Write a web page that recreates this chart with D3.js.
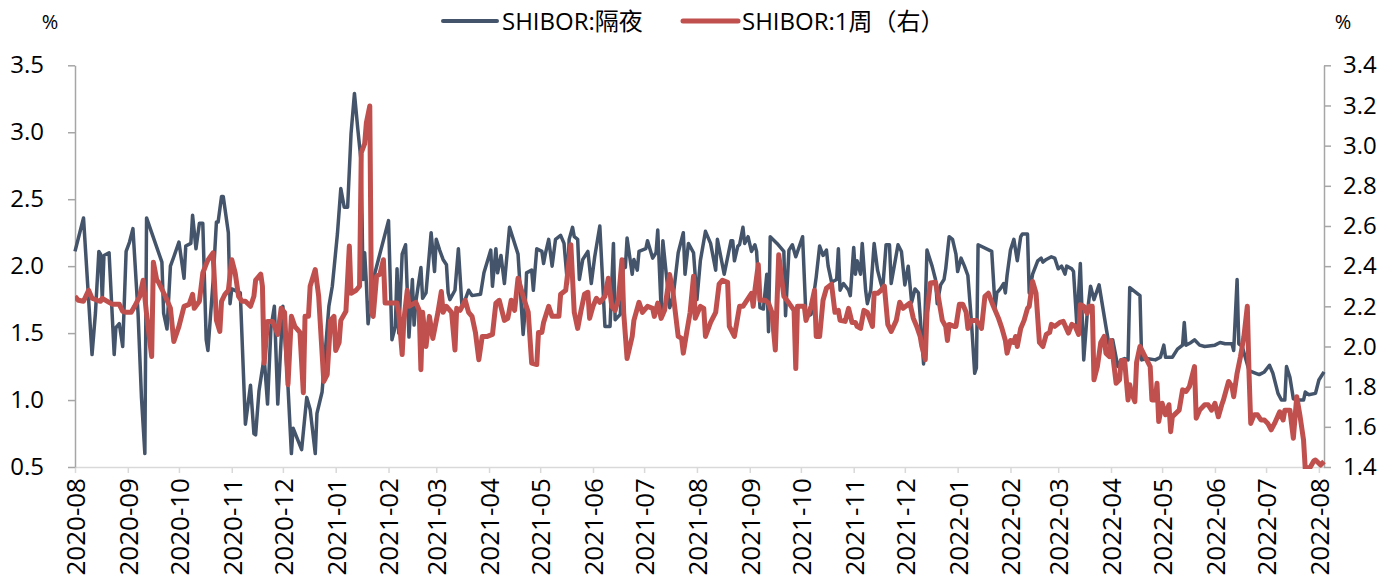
<!DOCTYPE html>
<html><head><meta charset="utf-8">
<script src="https://cdn.jsdelivr.net/npm/d3@7"></script>
<style>
body{margin:0;background:#fff}
svg{display:block}
text{font-family:"Open Sans","Noto Sans CJK SC",sans-serif;fill:#000}
</style>
</head><body>
<svg id="chart" width="1385" height="583"></svg>
<script>
// SHIBOR overnight (left axis, %)
const overnight = [
["2020-08-01",2.11],["2020-08-06",2.36],["2020-08-11",1.34],["2020-08-13",1.65],["2020-08-15",2.11],["2020-08-16",2.09],["2020-08-17",1.75],["2020-08-18",2.08],["2020-08-21",2.10],["2020-08-24",1.34],["2020-08-25",1.54],["2020-08-27",1.57],["2020-08-29",1.40],["2020-08-31",2.11],
["2020-09-02",2.18],["2020-09-04",2.28],["2020-09-07",1.65],["2020-09-09",1.02],["2020-09-11",0.60],["2020-09-12",2.36],["2020-09-21",2.03],["2020-09-22",1.65],["2020-09-24",1.53],["2020-09-26",2.00],["2020-09-28",2.07],
["2020-10-01",2.18],["2020-10-04",1.91],["2020-10-05",2.15],["2020-10-08",2.17],["2020-10-09",2.38],["2020-10-11",2.13],["2020-10-13",2.32],["2020-10-15",2.32],["2020-10-17",1.45],["2020-10-18",1.37],["2020-10-21",1.88],["2020-10-23",2.33],["2020-10-24",2.33],["2020-10-26",2.52],["2020-10-27",2.52],["2020-10-30",2.25],["2020-10-31",1.72],
["2020-11-01",1.83],["2020-11-06",1.80],["2020-11-09",0.82],["2020-11-12",1.11],["2020-11-14",0.75],["2020-11-15",0.74],["2020-11-17",1.07],["2020-11-20",1.32],["2020-11-22",0.97],["2020-11-24",1.54],["2020-11-26",1.70],["2020-11-28",0.97],
["2020-12-01",1.70],["2020-12-04",1.10],["2020-12-06",0.60],["2020-12-07",0.79],["2020-12-12",0.63],["2020-12-15",1.02],["2020-12-17",0.93],["2020-12-20",0.60],["2020-12-21",0.90],["2020-12-24",1.06],["2020-12-28",1.70],["2020-12-30",1.85],
["2021-01-02",2.24],["2021-01-04",2.58],["2021-01-06",2.44],["2021-01-08",2.44],["2021-01-10",2.99],["2021-01-12",3.29],["2021-01-14",3.02],["2021-01-16",2.77],["2021-01-17",1.90],["2021-01-18",2.10],["2021-01-19",1.87],["2021-01-20",1.57],["2021-01-23",1.90],
["2021-02-01",2.34],["2021-02-03",1.45],["2021-02-05",1.55],["2021-02-06",1.98],["2021-02-07",1.50],["2021-02-09",2.09],["2021-02-11",2.16],["2021-02-13",1.47],["2021-02-15",1.90],["2021-02-16",1.56],["2021-02-17",1.73],["2021-02-20",1.99],["2021-02-21",1.76],["2021-02-23",1.80],["2021-02-26",2.25],["2021-02-28",1.96],
["2021-03-01",2.20],["2021-03-03",2.12],["2021-03-05",2.05],["2021-03-07",2.01],["2021-03-08",1.80],["2021-03-09",1.75],["2021-03-12",1.82],["2021-03-14",2.13],["2021-03-16",1.72],["2021-03-18",1.75],["2021-03-20",1.82],["2021-03-22",1.78],["2021-03-27",1.79],["2021-03-29",1.95],
["2021-04-02",2.12],["2021-04-03",1.85],["2021-04-05",2.13],["2021-04-06",1.95],["2021-04-08",2.08],["2021-04-10",1.87],["2021-04-13",2.29],["2021-04-18",2.09],["2021-04-21",1.49],["2021-04-22",1.64],["2021-04-23",1.95],["2021-04-26",1.97],["2021-04-27",1.82],["2021-04-29",2.13],
["2021-05-02",2.11],["2021-05-03",2.02],["2021-05-04",2.09],["2021-05-06",2.20],["2021-05-08",2.00],["2021-05-10",2.20],["2021-05-13",2.23],["2021-05-15",2.17],["2021-05-17",1.87],["2021-05-18",2.20],["2021-05-20",2.29],["2021-05-21",2.22],["2021-05-23",2.20],["2021-05-24",1.90],["2021-05-26",2.05],["2021-05-29",2.11],["2021-05-31",1.87],
["2021-06-02",2.07],["2021-06-05",2.30],["2021-06-08",1.55],["2021-06-11",1.55],["2021-06-13",2.17],["2021-06-14",1.60],["2021-06-17",1.64],["2021-06-19",2.05],["2021-06-20",1.99],["2021-06-21",2.21],["2021-06-24",1.94],["2021-06-25",2.05],["2021-06-27",1.97],["2021-06-28",2.11],
["2021-07-02",2.13],["2021-07-03",2.19],["2021-07-06",2.06],["2021-07-08",2.10],["2021-07-09",2.27],["2021-07-11",1.67],["2021-07-12",2.19],["2021-07-14",1.94],["2021-07-16",1.69],["2021-07-18",1.77],["2021-07-21",2.10],["2021-07-24",2.25],["2021-07-25",1.94],["2021-07-27",2.17],["2021-07-30",2.10],
["2021-08-01",1.75],["2021-08-03",2.04],["2021-08-06",2.26],["2021-08-09",2.17],["2021-08-12",1.97],["2021-08-13",2.20],["2021-08-17",1.94],["2021-08-21",2.19],["2021-08-22",2.19],["2021-08-23",2.04],["2021-08-25",2.15],["2021-08-26",2.16],["2021-08-28",2.29],["2021-08-29",2.17],["2021-08-31",2.22],
["2021-09-02",2.11],["2021-09-04",2.16],["2021-09-05",2.11],["2021-09-07",1.69],["2021-09-09",1.68],["2021-09-11",1.94],["2021-09-12",1.51],["2021-09-13",2.22],["2021-09-17",2.17],["2021-09-21",2.11],["2021-09-22",1.63],["2021-09-24",2.12],["2021-09-26",2.16],["2021-09-28",2.07],
["2021-10-02",2.22],["2021-10-04",1.62],["2021-10-07",1.64],["2021-10-10",1.92],["2021-10-12",2.15],["2021-10-14",2.08],["2021-10-16",2.12],["2021-10-17",2.00],["2021-10-19",1.88],["2021-10-22",1.90],["2021-10-23",2.13],["2021-10-24",1.82],["2021-10-26",1.87],["2021-10-29",1.82],["2021-10-30",1.78],
["2021-11-01",2.14],["2021-11-02",1.94],["2021-11-03",2.04],["2021-11-05",1.94],["2021-11-06",2.17],["2021-11-08",1.82],["2021-11-09",1.72],["2021-11-11",1.82],["2021-11-13",2.17],["2021-11-15",1.97],["2021-11-17",1.87],["2021-11-18",1.83],["2021-11-20",2.16],["2021-11-22",2.16],["2021-11-23",1.87],["2021-11-27",2.16],["2021-11-29",2.11],
["2021-12-01",1.86],["2021-12-03",2.00],["2021-12-05",1.73],["2021-12-07",1.83],["2021-12-09",1.80],["2021-12-11",1.45],["2021-12-12",1.27],["2021-12-14",2.12],["2021-12-17",2.00],["2021-12-19",1.90],["2021-12-20",1.72],["2021-12-22",1.86],["2021-12-24",1.90],["2021-12-25",1.98],["2021-12-27",2.22],["2021-12-29",2.20],["2021-12-31",2.09],
["2022-01-01",1.96],["2022-01-03",2.06],["2022-01-05",2.00],["2022-01-07",1.93],["2022-01-09",1.60],["2022-01-11",1.20],["2022-01-12",1.24],["2022-01-13",2.16],["2022-01-21",2.11],["2022-01-23",1.69],["2022-01-24",1.80],["2022-01-26",1.83],["2022-01-28",1.87],["2022-01-29",1.80],["2022-01-30",1.93],
["2022-02-01",2.12],["2022-02-03",2.20],["2022-02-05",2.04],["2022-02-07",2.22],["2022-02-08",2.24],["2022-02-11",2.24],["2022-02-12",1.80],["2022-02-14",1.94],["2022-02-17",2.04],["2022-02-19",2.06],["2022-02-20",2.03],["2022-02-22",2.05],["2022-02-25",2.07],["2022-02-27",2.06],
["2022-03-01",1.98],["2022-03-03",2.00],["2022-03-05",1.94],["2022-03-06",2.00],["2022-03-09",1.98],["2022-03-10",1.96],["2022-03-12",1.55],["2022-03-13",1.80],["2022-03-14",2.02],["2022-03-16",1.30],["2022-03-18",1.64],["2022-03-20",1.85],["2022-03-22",1.75],["2022-03-25",1.86],["2022-03-29",1.55],["2022-03-31",1.40],
["2022-04-02",1.45],["2022-04-05",1.25],["2022-04-07",1.30],["2022-04-09",1.31],["2022-04-11",1.30],["2022-04-12",1.84],["2022-04-18",1.78],["2022-04-19",1.30],["2022-04-22",1.31],["2022-04-27",1.30],["2022-04-30",1.32],
["2022-05-02",1.41],["2022-05-03",1.32],["2022-05-07",1.32],["2022-05-10",1.38],["2022-05-13",1.41],["2022-05-14",1.58],["2022-05-15",1.41],["2022-05-18",1.43],["2022-05-20",1.45],["2022-05-23",1.41],["2022-05-26",1.40],
["2022-06-01",1.41],["2022-06-04",1.43],["2022-06-07",1.42],["2022-06-11",1.42],["2022-06-12",1.37],["2022-06-14",1.90],["2022-06-15",1.42],["2022-06-17",1.40],["2022-06-21",1.22],["2022-06-25",1.20],["2022-06-27",1.19],["2022-06-30",1.21],
["2022-07-03",1.26],["2022-07-05",1.20],["2022-07-08",1.05],["2022-07-10",1.00],["2022-07-12",1.00],["2022-07-13",1.25],["2022-07-15",1.17],["2022-07-17",1.01],["2022-07-20",1.00],["2022-07-23",1.00],["2022-07-24",1.06],["2022-07-26",1.04],["2022-07-30",1.05],
["2022-08-01",1.15],["2022-08-04",1.21]
];

// SHIBOR 1 week (right axis, %)
const oneWeek = [
["2020-08-01",2.25],["2020-08-03",2.23],["2020-08-06",2.225],["2020-08-09",2.28],["2020-08-11",2.24],["2020-08-14",2.23],["2020-08-16",2.225],["2020-08-17",2.24],["2020-08-20",2.225],["2020-08-23",2.21],["2020-08-27",2.21],["2020-08-29",2.175],["2020-08-31",2.17],
["2020-09-03",2.17],["2020-09-05",2.20],["2020-09-08",2.25],["2020-09-10",2.33],["2020-09-12",2.16],["2020-09-15",1.95],["2020-09-16",2.42],["2020-09-18",2.33],["2020-09-19",2.32],["2020-09-23",2.25],["2020-09-26",2.19],["2020-09-28",2.025],
["2020-10-01",2.10],["2020-10-04",2.20],["2020-10-07",2.21],["2020-10-09",2.26],["2020-10-10",2.19],["2020-10-13",2.225],["2020-10-15",2.366],["2020-10-17",2.41],["2020-10-18",2.43],["2020-10-21",2.466],["2020-10-23",2.13],["2020-10-25",2.075],["2020-10-26",2.225],["2020-10-28",2.26],["2020-10-30",2.28],
["2020-11-01",2.432],["2020-11-03",2.366],["2020-11-05",2.25],["2020-11-07",2.225],["2020-11-09",2.225],["2020-11-12",2.20],["2020-11-14",2.25],["2020-11-15",2.33],["2020-11-18",2.36],["2020-11-19",2.30],["2020-11-20",1.917],["2020-11-22",2.125],["2020-11-25",2.125],["2020-11-28",2.06],["2020-11-30",2.19],
["2020-12-02",2.17],["2020-12-04",1.81],["2020-12-06",2.15],["2020-12-08",2.10],["2020-12-11",2.07],["2020-12-13",1.77],["2020-12-14",2.15],["2020-12-16",2.15],["2020-12-17",2.30],["2020-12-20",2.383],["2020-12-22",2.25],["2020-12-25",1.826],["2020-12-27",1.86],["2020-12-29",2.13],["2020-12-31",2.15],
["2021-01-01",1.98],["2021-01-03",2.02],["2021-01-04",2.13],["2021-01-07",2.175],["2021-01-09",2.50],["2021-01-10",2.265],["2021-01-13",2.28],["2021-01-15",2.30],["2021-01-16",2.965],["2021-01-18",3.01],["2021-01-19",3.114],["2021-01-21",3.197],["2021-01-22",2.17],["2021-01-23",2.15],["2021-01-25",2.35],["2021-01-27",2.36],["2021-01-29",2.432],["2021-01-30",2.216],
["2021-02-06",2.216],["2021-02-07",2.17],["2021-02-09",1.96],["2021-02-10",2.13],["2021-02-12",2.28],["2021-02-13",2.20],["2021-02-17",2.22],["2021-02-19",2.18],["2021-02-20",1.884],["2021-02-21",2.17],["2021-02-23",2.00],["2021-02-25",2.15],["2021-02-27",2.04],
["2021-03-02",2.17],["2021-03-04",2.274],["2021-03-05",2.17],["2021-03-07",2.20],["2021-03-10",2.17],["2021-03-12",1.983],["2021-03-13",2.19],["2021-03-15",2.18],["2021-03-18",2.23],["2021-03-20",2.17],["2021-03-22",2.15],["2021-03-24",2.07],["2021-03-26",1.934],["2021-03-28",2.05],["2021-03-31",2.05],
["2021-04-03",2.06],["2021-04-05",2.216],["2021-04-07",2.23],["2021-04-10",2.13],["2021-04-12",2.14],["2021-04-14",2.23],["2021-04-16",2.18],["2021-04-18",2.34],["2021-04-21",2.25],["2021-04-24",2.17],["2021-04-26",1.917],["2021-04-29",1.91],["2021-04-30",2.07],
["2021-05-02",2.07],["2021-05-03",2.12],["2021-05-06",2.20],["2021-05-08",2.15],["2021-05-12",2.15],["2021-05-13",2.26],["2021-05-16",2.28],["2021-05-19",2.507],["2021-05-21",2.17],["2021-05-23",2.09],["2021-05-25",2.18],["2021-05-27",2.26],["2021-05-29",2.27],["2021-05-30",2.14],
["2021-06-01",2.20],["2021-06-03",2.24],["2021-06-05",2.22],["2021-06-08",2.25],["2021-06-10",2.34],["2021-06-12",2.20],["2021-06-14",2.18],["2021-06-16",2.24],["2021-06-18",2.432],["2021-06-19",2.17],["2021-06-21",1.94],["2021-06-24",2.05],["2021-06-25",2.13],["2021-06-28",2.22],["2021-06-30",2.17],
["2021-07-03",2.20],["2021-07-06",2.19],["2021-07-07",2.15],["2021-07-09",2.216],["2021-07-11",2.14],["2021-07-13",2.18],["2021-07-16",2.358],["2021-07-18",2.265],["2021-07-21",2.05],["2021-07-23",2.04],["2021-07-24",1.967],["2021-07-26",2.07],["2021-07-28",2.17],["2021-07-30",2.35],["2021-07-31",2.14],
["2021-08-03",2.20],["2021-08-05",2.19],["2021-08-06",2.05],["2021-08-09",2.12],["2021-08-12",2.17],["2021-08-14",2.31],["2021-08-16",2.33],["2021-08-19",2.32],["2021-08-20",2.10],["2021-08-23",2.05],["2021-08-26",2.20],["2021-08-28",2.20],
["2021-09-02",2.265],["2021-09-03",2.20],["2021-09-04",2.28],["2021-09-06",2.408],["2021-09-07",2.23],["2021-09-10",2.23],["2021-09-12",2.216],["2021-09-14",2.17],["2021-09-16",1.983],["2021-09-18",2.457],["2021-09-21",2.25],["2021-09-24",2.216],["2021-09-27",2.18],["2021-09-28",1.89],["2021-09-29",2.20],
["2021-10-03",2.20],["2021-10-04",2.13],["2021-10-07",2.20],["2021-10-09",2.28],["2021-10-10",2.05],["2021-10-12",2.05],["2021-10-14",2.23],["2021-10-16",2.29],["2021-10-19",2.31],["2021-10-21",2.17],["2021-10-23",2.18],["2021-10-24",2.13],["2021-10-27",2.125],["2021-10-29",2.19],["2021-10-31",2.12],
["2021-11-02",2.12],["2021-11-03",2.10],["2021-11-05",2.09],["2021-11-07",2.18],["2021-11-09",2.17],["2021-11-12",2.10],["2021-11-13",2.265],["2021-11-15",2.265],["2021-11-17",2.28],["2021-11-19",2.30],["2021-11-21",2.11],["2021-11-23",2.075],["2021-11-26",2.13],["2021-11-28",2.22],["2021-11-30",2.19],
["2021-12-04",2.216],["2021-12-06",2.14],["2021-12-08",2.10],["2021-12-10",2.05],["2021-12-11",2.00],["2021-12-13",1.934],["2021-12-14",2.17],["2021-12-16",2.316],["2021-12-19",2.32],["2021-12-21",2.23],["2021-12-23",2.13],["2021-12-25",2.10],["2021-12-26",2.03],["2021-12-27",2.11],["2021-12-30",2.10],["2021-12-31",2.10],
["2022-01-02",2.21],["2022-01-04",2.21],["2022-01-06",2.17],["2022-01-07",2.09],["2022-01-09",2.13],["2022-01-12",2.13],["2022-01-15",2.09],["2022-01-17",2.25],["2022-01-19",2.265],["2022-01-22",2.20],["2022-01-25",2.14],["2022-01-27",2.09],["2022-01-29",2.03],["2022-01-30",1.967],
["2022-02-01",2.03],["2022-02-03",2.02],["2022-02-04",2.05],["2022-02-05",2.00],["2022-02-07",2.09],["2022-02-09",2.13],["2022-02-11",2.19],["2022-02-12",2.20],["2022-02-14",2.324],["2022-02-16",2.265],["2022-02-18",2.02],["2022-02-20",2.00],["2022-02-22",2.06],["2022-02-24",2.07],["2022-02-25",2.11],["2022-02-27",2.10],
["2022-03-02",2.12],["2022-03-04",2.125],["2022-03-07",2.067],["2022-03-09",2.11],["2022-03-11",2.10],["2022-03-13",2.06],["2022-03-14",2.208],["2022-03-16",2.20],["2022-03-18",2.165],["2022-03-19",2.20],["2022-03-21",2.20],["2022-03-22",1.834],["2022-03-24",1.90],["2022-03-26",2.02],["2022-03-28",2.05],["2022-03-29",1.967],["2022-03-31",1.95],
["2022-04-01",2.03],["2022-04-04",1.817],["2022-04-06",1.834],["2022-04-07",1.93],["2022-04-09",1.93],["2022-04-11",1.734],["2022-04-12",1.81],["2022-04-13",1.77],["2022-04-15",1.725],["2022-04-16",1.92],["2022-04-18",2.00],["2022-04-21",1.95],["2022-04-24",1.90],["2022-04-25",1.734],["2022-04-27",1.734],["2022-04-28",1.817],["2022-04-29",1.626],
["2022-05-01",1.717],["2022-05-03",1.66],["2022-05-05",1.71],["2022-05-06",1.576],["2022-05-07",1.65],["2022-05-09",1.667],["2022-05-11",1.683],["2022-05-13",1.784],["2022-05-15",1.776],["2022-05-17",1.80],["2022-05-20",1.90],["2022-05-21",1.643],["2022-05-23",1.683],["2022-05-26",1.71],["2022-05-28",1.71],["2022-05-30",1.683],
["2022-06-01",1.717],["2022-06-03",1.65],["2022-06-05",1.71],["2022-06-06",1.734],["2022-06-09",1.826],["2022-06-11",1.80],["2022-06-12",1.75],["2022-06-14",1.867],["2022-06-16",1.95],["2022-06-18",2.05],["2022-06-20",2.20],["2022-06-21",1.867],["2022-06-22",1.617],["2022-06-24",1.66],["2022-06-26",1.66],["2022-06-28",1.634],["2022-06-30",1.634],
["2022-07-02",1.617],["2022-07-04",1.585],["2022-07-06",1.617],["2022-07-09",1.675],["2022-07-11",1.634],["2022-07-12",1.683],["2022-07-15",1.683],["2022-07-17",1.543],["2022-07-19",1.75],["2022-07-21",1.65],["2022-07-23",1.534],["2022-07-24",1.39],["2022-07-27",1.40],["2022-07-29",1.43],["2022-07-30",1.435],
["2022-08-02",1.41],["2022-08-04",1.427]
];

const leftTicks = [0.5,1.0,1.5,2.0,2.5,3.0,3.5];
const rightTicks = [1.4,1.6,1.8,2.0,2.2,2.4,2.6,2.8,3.0,3.2,3.4];
const monthTicks = ["2020-08","2020-09","2020-10","2020-11","2020-12","2021-01","2021-02","2021-03","2021-04","2021-05","2021-06","2021-07","2021-08","2021-09","2021-10","2021-11","2021-12","2022-01","2022-02","2022-03","2022-04","2022-05","2022-06","2022-07","2022-08"];
const seriesNames = ["SHIBOR:隔夜","SHIBOR:1周（右）"];
const seriesColors = ["#44546A","#C0504D"];

const parseDay = d3.timeParse("%Y-%m-%d");
const parseMonth = d3.timeParse("%Y-%m");
const svg = d3.select("#chart");

const L = 75, R = 1324, T = 65.3, B = 467;
const x = d3.scaleTime().domain([parseDay("2020-08-01"), parseDay("2022-08-04")]).range([L, R]);
const yL = d3.scaleLinear().domain([0.5, 3.5]).range([B, T]);
const yR = d3.scaleLinear().domain([1.4, 3.4]).range([B, T]);

const fs = 24;

// x axis
const xAxis = svg.append("g").attr("transform", `translate(0,${B})`)
  .call(d3.axisBottom(x).tickValues(monthTicks.map(parseMonth)).tickFormat(d3.timeFormat("%Y-%m")).tickSize(6).tickSizeOuter(0));
xAxis.select(".domain").attr("stroke", "#d9d9d9").attr("stroke-width", 1.5);
xAxis.selectAll(".tick line").attr("stroke", "#d9d9d9").attr("stroke-width", 1.5);
xAxis.selectAll(".tick text")
  .attr("transform", "rotate(-90)")
  .attr("text-anchor", "end")
  .attr("x", -11).attr("y", 0).attr("dy", "0.36em")
  .style("font-size", "26px").style("font-family", '"Open Sans",sans-serif').attr("fill", "#000");

// left axis
const gL = svg.append("g").attr("transform", `translate(${L},0)`)
  .call(d3.axisLeft(yL).tickValues(leftTicks).tickFormat(d3.format(".1f")).tickSize(7).tickSizeOuter(0));
gL.select(".domain").attr("stroke", "#a6a6a6").attr("stroke-width", 1.5);
gL.selectAll(".tick line").attr("stroke", "#a6a6a6").attr("stroke-width", 1.5);
gL.selectAll(".tick text").attr("x", -31).style("font-size", fs + "px").style("font-family", '"Open Sans",sans-serif').attr("fill", "#000");

// right axis
const gR = svg.append("g").attr("transform", `translate(${R},0)`)
  .call(d3.axisRight(yR).tickValues(rightTicks).tickFormat(d3.format(".1f")).tickSize(7).tickSizeOuter(0));
gR.select(".domain").attr("stroke", "#a6a6a6").attr("stroke-width", 1.5);
gR.selectAll(".tick line").attr("stroke", "#a6a6a6").attr("stroke-width", 1.5);
gR.selectAll(".tick text").attr("x", 19).style("font-size", fs + "px").style("font-family", '"Open Sans",sans-serif').attr("fill", "#000");

// unit labels
svg.append("text").attr("x", 50).attr("y", 29).attr("text-anchor", "middle").style("font-size", "20px").text("%");
svg.append("text").attr("x", 1343).attr("y", 29).attr("text-anchor", "middle").style("font-size", "20px").text("%");

// clip
svg.append("defs").append("clipPath").attr("id", "plot").append("rect")
  .attr("x", L).attr("y", T - 10).attr("width", R - L + 4).attr("height", B - T + 12);

const lineL = d3.line().x(d => x(parseDay(d[0]))).y(d => yL(d[1]));
const lineR = d3.line().x(d => x(parseDay(d[0]))).y(d => yR(d[1]));

svg.append("path").datum(overnight).attr("d", lineL)
  .attr("fill", "none").attr("stroke", seriesColors[0]).attr("stroke-width", 3.5).attr("stroke-linejoin", "round");
svg.append("path").datum(oneWeek).attr("d", lineR).attr("clip-path", "url(#plot)")
  .attr("fill", "none").attr("stroke", seriesColors[1]).attr("stroke-width", 5).attr("stroke-linejoin", "round");

// legend
const legend = [{x1: 443, x2: 497, tx: 502, w: 4}, {x1: 683, x2: 738, tx: 742, w: 5}];
legend.forEach((g, i) => {
  svg.append("line").attr("x1", g.x1).attr("x2", g.x2).attr("y1", 21).attr("y2", 21)
    .attr("stroke", seriesColors[i]).attr("stroke-width", g.w).attr("stroke-linecap", "round");
  svg.append("text").attr("x", g.tx).attr("y", 30).style("font-size", "24px").text(seriesNames[i]);
});
</script>
</body></html>
